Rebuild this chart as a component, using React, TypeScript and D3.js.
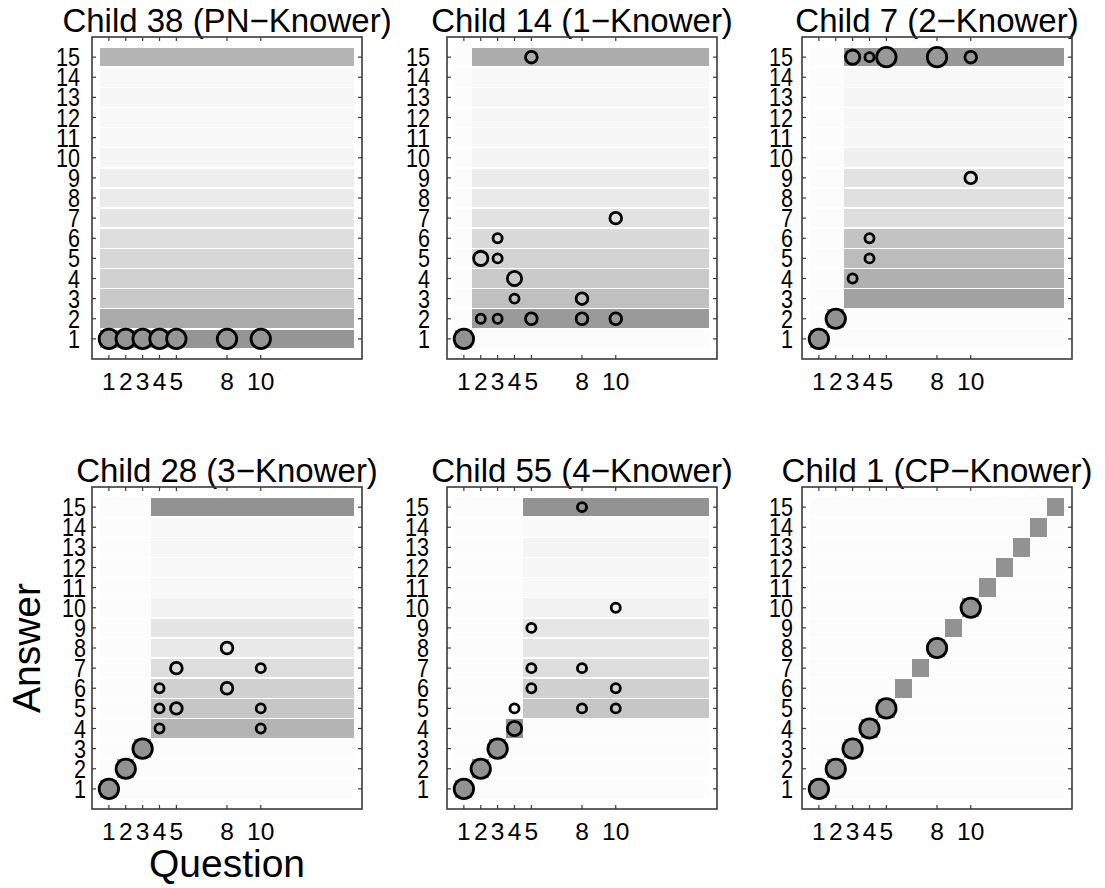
import React from "react";
import * as d3 from "d3";

// children shown, one panel each
const childIds = [38, 14, 7, 28, 55, 1];
const knowerNames = ["PN", "1", "2", "3", "4", "CP"];
// highest number the child knows (CP knows all)
const knowerLevels = [0, 1, 2, 3, 4, 15];

const answers = [1, 2, 3, 4, 5, 6, 7, 8, 9, 10, 11, 12, 13, 14, 15];
const questions = [1, 2, 3, 4, 5, 6, 7, 8, 9, 10, 11, 12, 13, 14, 15];
const questionTicks = [1, 2, 3, 4, 5, 8, 10];

// predicted shade of each answer row for questions above the knower level
const shade38 = [0.92, 0.74, 0.47, 0.4, 0.35, 0.29, 0.23, 0.17, 0.15, 0.09, 0.06, 0.06, 0.07, 0.06, 0.65];
const shade14 = [0.03, 0.88, 0.55, 0.46, 0.39, 0.32, 0.25, 0.18, 0.17, 0.1, 0.07, 0.07, 0.08, 0.06, 0.72];
const shade7 = [0.03, 0.03, 0.81, 0.69, 0.58, 0.51, 0.29, 0.27, 0.25, 0.13, 0.07, 0.07, 0.09, 0.06, 0.9];
const shade28 = [0.03, 0.03, 0.03, 0.65, 0.5, 0.41, 0.3, 0.19, 0.23, 0.11, 0.06, 0.06, 0.07, 0.06, 0.95];
const shade55 = [0.03, 0.03, 0.03, 0.03, 0.5, 0.41, 0.3, 0.22, 0.22, 0.11, 0.06, 0.07, 0.1, 0.05, 0.94];
const shade1 = [0.03, 0.03, 0.03, 0.03, 0.03, 0.03, 0.03, 0.03, 0.03, 0.03, 0.03, 0.03, 0.03, 0.03, 0.03];
const rowShades = [shade38, shade14, shade7, shade28, shade55, shade1];
const knownShade = 0.95;
const offShade = 0.03;

// observed answers: [question, answer, count]
const obs38 = [[1, 1, 3], [2, 1, 3], [3, 1, 3], [4, 1, 3], [5, 1, 3], [8, 1, 3], [10, 1, 3]];
const obs14 = [[1, 1, 3], [2, 2, 1], [2, 5, 2], [3, 2, 1], [3, 5, 1], [3, 6, 1], [4, 3, 1], [4, 4, 2], [5, 2, 1], [5, 15, 1], [8, 2, 1], [8, 3, 1], [10, 2, 1], [10, 7, 1]];
const obs7 = [[1, 1, 3], [2, 2, 3], [3, 15, 2], [3, 4, 1], [4, 15, 1], [4, 5, 1], [4, 6, 1], [5, 15, 3], [8, 15, 3], [10, 15, 1], [10, 9, 1]];
const obs28 = [[1, 1, 3], [2, 2, 3], [3, 3, 3], [4, 4, 1], [4, 5, 1], [4, 6, 1], [5, 5, 1], [5, 7, 1], [8, 6, 1], [8, 8, 1], [10, 4, 1], [10, 5, 1], [10, 7, 1]];
const obs55 = [[1, 1, 3], [2, 2, 3], [3, 3, 3], [4, 4, 2], [4, 5, 1], [5, 9, 1], [5, 7, 1], [5, 6, 1], [8, 15, 1], [8, 7, 1], [8, 5, 1], [10, 10, 1], [10, 6, 1], [10, 5, 1]];
const obs1 = [[1, 1, 3], [2, 2, 3], [3, 3, 3], [4, 4, 3], [5, 5, 3], [8, 8, 3], [10, 10, 3]];
const observations = [obs38, obs14, obs7, obs28, obs55, obs1];

const W = 270;
const H = 322;
const panelLeft = [92, 447, 802];
const panelTop = [37, 487];
// space between answer labels and the frame, per panel
const yLabelGap = [12, 17, 9, 6, 18, 9];
const font = "'Liberation Sans', Arial, Helvetica, sans-serif";
const frameColor = "#3a3a3a";

const x = d3.scaleLinear().domain([0, 16]).range([0, W]);
const y = d3.scaleLinear().domain([0, 16]).range([H, 0]);
const gray = d3.scaleLinear<string>().domain([0, 1]).range(["#ffffff", "#8c8c8c"]);
const radius = d3.scaleLinear().domain([0, 1]).range([2, 9.7]);

function cellShade(i: number, q: number, a: number) {
  const k = knowerLevels[i];
  if (q <= k) return q === a ? knownShade : offShade;
  return rowShades[i][a - 1];
}

function Panel({ i }: { i: number }) {
  const left = panelLeft[i % 3];
  const top = panelTop[Math.floor(i / 3)];
  const cw = x(1) - x(0);
  const ch = y(0) - y(1);
  const gap = 1.6;
  const obs = observations[i];
  const totals = d3.rollup(obs, (v) => d3.sum(v, (d) => d[2]), (d) => d[0]);
  const digitW = 12;

  return (
    <g transform={`translate(${left},${top})`}>
      <text x={W / 2} y={-5.5} textAnchor="middle" fontSize={33} fontFamily={font} fill="#000">
        {`Child ${childIds[i]} (${knowerNames[i]}\u2212Knower)`}
      </text>
      <g shapeRendering="crispEdges">
        {questions.map((q) =>
          answers.map((a) => (
            <rect
              key={`${q}-${a}`}
              x={x(q - 0.5)}
              y={y(a + 0.5) + gap / 2}
              width={cw + 0.3}
              height={ch - gap}
              fill={gray(cellShade(i, q, a))}
            />
          ))
        )}
      </g>
      {obs.map(([q, a, n]) => (
        <circle
          key={`c${q}-${a}`}
          cx={x(q)}
          cy={y(a)}
          r={radius(n / (totals.get(q) || 1))}
          fill={gray(cellShade(i, q, a))}
          stroke="#000"
          strokeWidth={2.8}
        />
      ))}
      <rect x={0} y={0} width={W} height={H} fill="none" stroke={frameColor} strokeWidth={1.6} />
      {questionTicks.map((q) => (
        <g key={`xt${q}`} stroke={frameColor} strokeWidth={1.2}>
          <line x1={x(q)} x2={x(q)} y1={H} y2={H - 4} />
          <line x1={x(q)} x2={x(q)} y1={0} y2={4} />
        </g>
      ))}
      {answers.map((a) => (
        <g key={`yt${a}`} stroke={frameColor} strokeWidth={1.2}>
          <line x1={0} x2={4} y1={y(a)} y2={y(a)} />
          <line x1={W} x2={W - 4} y1={y(a)} y2={y(a)} />
        </g>
      ))}
      {questionTicks.map((q) => (
        <text key={`xl${q}`} x={x(q)} y={H + 31} textAnchor="middle" fontSize={24.5} fontFamily={font} fill="#000">
          {q}
        </text>
      ))}
      {answers.map((a) => (
        <text
          key={`yl${a}`}
          x={-yLabelGap[i] - String(a).length * digitW}
          y={y(a) + 9}
          fontSize={25}
          fontFamily={font}
          fill="#000"
          textLength={String(a).length * digitW}
          lengthAdjust="spacingAndGlyphs"
        >
          {a}
        </text>
      ))}
    </g>
  );
}

export default function App() {
  return (
    <svg
      width={1105}
      height={888}
      style={{ position: "absolute", left: 0, top: 0, background: "#fff" }}
    >
      <rect width={1105} height={888} fill="#fff" />
      {childIds.map((id, i) => (
        <Panel key={id} i={i} />
      ))}
      <text x={panelLeft[0] + W / 2} y={877} textAnchor="middle" fontSize={39} fontFamily={font} fill="#000">
        Question
      </text>
      <text
        transform={`translate(40,${panelTop[1] + H / 2}) rotate(-90)`}
        textAnchor="middle"
        fontSize={39}
        fontFamily={font}
        fill="#000"
      >
        Answer
      </text>
    </svg>
  );
}
